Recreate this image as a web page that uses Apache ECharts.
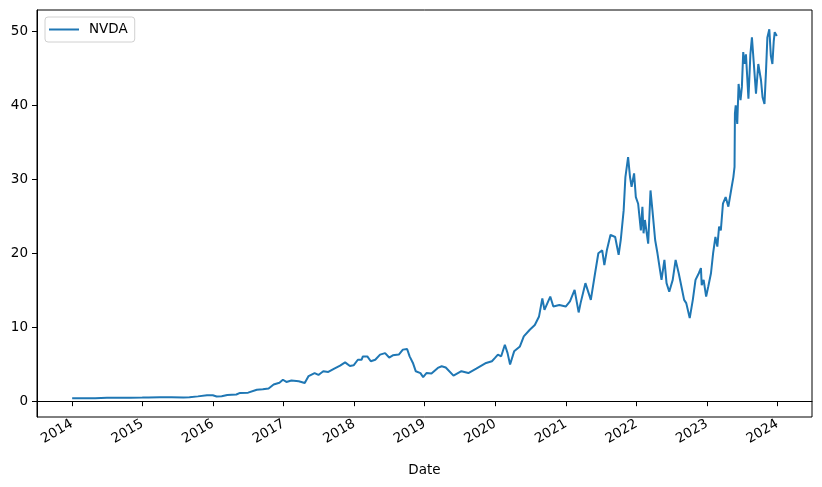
<!DOCTYPE html>
<html>
<head>
<meta charset="utf-8">
<script src="https://cdn.jsdelivr.net/npm/echarts@6/dist/echarts.min.js"></script>
<style>
html,body{margin:0;padding:0;background:#fff;}
#chart{width:822px;height:487px;}
</style>
</head>
<body>
<div id="chart"></div>
<script>
var seriesName = 'NVDA';
var dates = [
'2014-01-02','2014-03-01','2014-05-01','2014-07-01','2014-09-01','2014-11-01','2014-12-31',
'2015-02-01','2015-04-01','2015-06-01','2015-08-01','2015-09-01','2015-10-15','2015-12-01','2015-12-31',
'2016-01-20','2016-02-15','2016-03-15','2016-05-01','2016-05-20','2016-07-01','2016-08-15','2016-09-15','2016-10-15','2016-11-10','2016-12-10','2016-12-28',
'2017-01-15','2017-02-10','2017-02-20','2017-03-20','2017-04-20','2017-05-10','2017-06-10','2017-06-30','2017-07-25','2017-08-20','2017-09-20','2017-10-20','2017-11-15','2017-12-10','2017-12-29',
'2018-01-20','2018-02-08','2018-02-15','2018-03-10','2018-03-28','2018-04-20','2018-05-15','2018-06-10','2018-07-01','2018-07-20','2018-08-20','2018-09-10','2018-10-02','2018-10-15','2018-11-01','2018-11-16','2018-12-10','2018-12-24',
'2019-01-10','2019-02-05','2019-03-10','2019-03-30','2019-04-20','2019-05-30','2019-07-10','2019-08-15','2019-09-25','2019-11-15','2019-12-15','2019-12-31',
'2020-01-15','2020-02-01','2020-02-20','2020-03-05','2020-03-18','2020-04-08','2020-05-08','2020-05-28','2020-06-28','2020-07-24','2020-08-15','2020-09-01','2020-09-12','2020-10-12','2020-10-28','2020-11-28','2020-12-31',
'2021-01-22','2021-02-15','2021-03-08','2021-03-18','2021-04-12','2021-05-10','2021-06-01','2021-06-18','2021-07-08','2021-07-19','2021-08-01','2021-08-20','2021-09-13','2021-10-01','2021-10-12','2021-10-27','2021-11-05','2021-11-19','2021-11-29','2021-12-07','2021-12-20','2021-12-29',
'2022-01-10','2022-01-24','2022-02-01','2022-02-07','2022-02-14','2022-03-03','2022-03-15','2022-03-25','2022-04-08','2022-04-20','2022-05-03','2022-05-11','2022-05-26','2022-06-06','2022-06-20','2022-07-08','2022-07-23','2022-08-08','2022-08-22','2022-09-05','2022-09-16','2022-10-04','2022-10-20','2022-11-03','2022-11-20','2022-12-01','2022-12-05','2022-12-15','2022-12-28',
'2023-01-08','2023-01-22','2023-02-02','2023-02-14','2023-02-24','2023-03-05','2023-03-14','2023-03-25','2023-04-08','2023-04-22','2023-05-08','2023-05-18','2023-05-24','2023-05-26','2023-05-30','2023-06-07','2023-06-14','2023-06-24','2023-07-01','2023-07-08','2023-07-15','2023-07-22','2023-08-04','2023-08-14','2023-08-22','2023-09-01','2023-09-12','2023-09-24','2023-10-08','2023-10-16','2023-10-26','2023-11-03','2023-11-10','2023-11-20','2023-11-28','2023-12-06','2023-12-13','2023-12-18','2023-12-29'
];
var prices = [
0.39,0.40,0.41,0.45,0.47,0.48,0.49,
0.50,0.52,0.53,0.50,0.52,0.65,0.80,0.80,
0.63,0.68,0.84,0.90,1.12,1.15,1.55,1.60,1.72,2.25,2.50,2.90,
2.60,2.80,2.55,2.70,2.45,3.40,3.80,3.55,4.05,3.95,4.40,4.80,5.25,4.75,4.85,
5.60,5.60,6.05,6.05,5.40,5.60,6.30,6.50,5.90,6.20,6.30,6.97,7.06,6.06,5.17,4.04,3.80,3.25,
3.80,3.75,4.50,4.72,4.55,3.45,4.05,3.80,4.40,5.17,5.40,5.85,
6.30,6.07,7.64,6.50,4.95,6.74,7.40,8.76,9.66,10.30,11.46,13.90,12.36,14.15,12.80,13.00,12.80,
13.50,15.05,12.00,13.26,15.96,13.70,17.30,20.00,20.40,18.40,20.40,22.50,22.20,19.80,21.80,25.80,30.30,33.00,30.30,29.00,30.80,27.60,
26.70,23.10,26.30,22.70,24.50,21.30,28.50,25.80,21.80,20.00,17.75,16.40,19.10,15.96,14.80,16.40,19.10,17.30,15.50,13.70,13.26,11.24,13.70,16.40,17.30,18.00,15.70,16.40,14.15,
15.50,17.30,20.00,22.20,20.90,23.60,23.10,26.70,27.60,26.30,28.80,30.30,31.70,38.90,40.00,37.50,42.90,40.70,42.50,47.20,45.60,46.90,40.90,46.90,49.20,45.60,41.60,45.60,43.40,41.10,40.20,44.70,49.20,50.30,46.70,45.60,48.70,49.90,49.40
];
var yearTicks = [2014,2015,2016,2017,2018,2019,2020,2021,2022,2023,2024];
var valueTicks = [0,10,20,30,40,50];
var xLabel = 'Date';

function ts(s){ var p = s.split('-'); return Date.UTC(+p[0], +p[1]-1, +p[2]); }
var chart = echarts.init(document.getElementById('chart'), null, {renderer:'canvas'});
var data = dates.map(function(d,i){ return [ts(d), prices[i]]; });
var yearStamps = yearTicks.map(function(y){ return Date.UTC(y,0,1); });
var font = 'DejaVu Sans';
chart.setOption({
  animation:false,
  backgroundColor:'#ffffff',
  grid:{left:37,right:10,top:10,bottom:70,show:true,borderColor:'#000',borderWidth:1,backgroundColor:'transparent'},
  legend:{
    show:true,left:45,top:17,orient:'horizontal',
    data:[{name:seriesName,icon:'rect'}],
    itemWidth:30,itemHeight:2,
    padding:[5,7,5,4],itemGap:10,
    borderColor:'#d0d0d0',borderWidth:1,borderRadius:3,backgroundColor:'#fff',
    textStyle:{fontFamily:font,fontSize:13.5,color:'#000',lineHeight:15,padding:[0,0,0,5]}
  },
  xAxis:{
    type:'value',
    min:Date.UTC(2013,6,4),
    max:Date.UTC(2024,5,28),
    name:xLabel,nameLocation:'middle',nameGap:46,
    nameTextStyle:{fontFamily:font,fontSize:13.5,color:'#000'},
    axisLine:{show:true,lineStyle:{color:'#000',width:1}},
    axisTick:{show:true,length:5,lineStyle:{color:'#000',width:1},customValues:yearStamps},
    axisLabel:{show:true,rotate:30,margin:6,fontFamily:font,fontSize:13.5,color:'#000',
      customValues:yearStamps,
      formatter:function(v){ return String(new Date(v).getUTCFullYear()); }},
    splitLine:{show:false}
  },
  yAxis:{
    type:'value',min:-2.14,max:52.9,
    axisLine:{show:true,lineStyle:{color:'#000',width:1}},
    axisTick:{show:true,length:5,lineStyle:{color:'#000',width:1},customValues:valueTicks},
    axisLabel:{show:true,margin:9,fontFamily:font,fontSize:13.5,color:'#000',customValues:valueTicks,
      formatter:function(v){return String(v);}},
    splitLine:{show:false}
  },
  series:[{
    name:seriesName,type:'line',data:data,showSymbol:false,symbol:'none',
    lineStyle:{color:'#1f77b4',width:2},itemStyle:{color:'#1f77b4'},
    emphasis:{disabled:true}
  }]
});
</script>
</body>
</html>
